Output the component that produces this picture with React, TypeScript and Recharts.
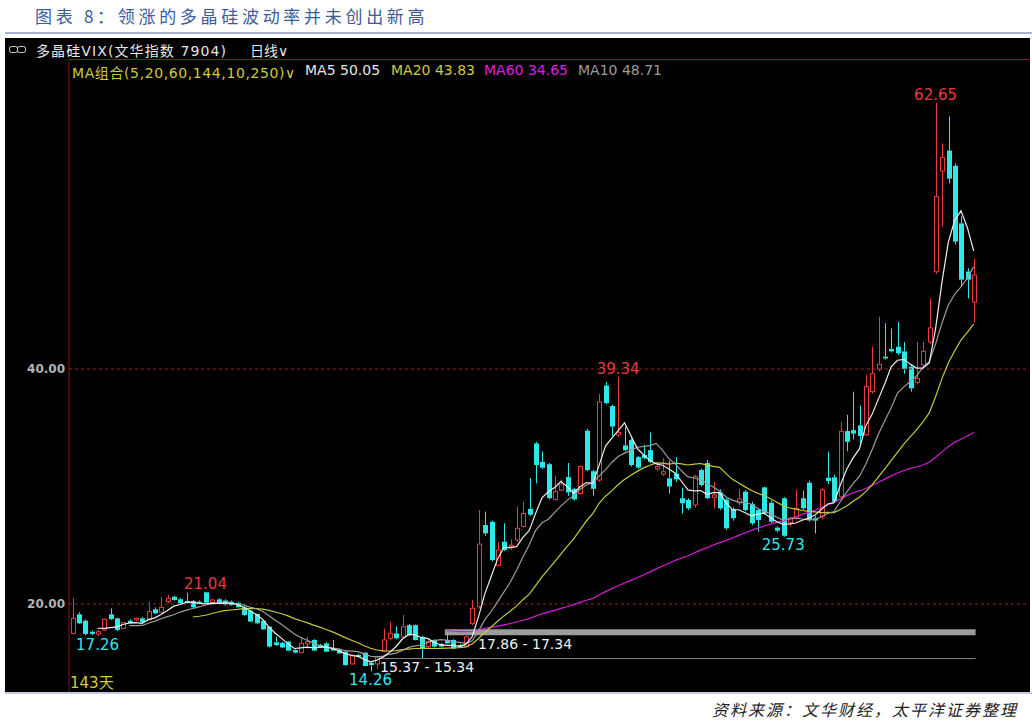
import React from 'react';
import { ComposedChart, Bar, Line, XAxis, YAxis, ReferenceLine, ReferenceArea, ReferenceDot } from 'recharts';

// daily OHLC of 多晶硅VIX, 143 sessions
const OPEN = [
  17.5, 19.12, 18.58, 17.64, 17.45, 17.79, 19.12, 18.78, 17.93, 18.58,
  18.64, 18.78, 18.7, 19.55, 19.29, 20.2, 20.62, 20.4, 20.26, 20.26,
  20.2, 21.0, 20.14, 20.4, 20.3, 20.2, 20.1, 19.72, 19.43, 19.15,
  18.58, 18.07, 16.74, 16.7, 16.8, 16.08, 15.86, 16.6, 16.94, 16.5,
  16.65, 16.2, 16.14, 15.94, 14.9, 15.66, 15.86, 15.0, 14.9, 16.0,
  17.08, 17.5, 17.2, 18.2, 18.2, 17.2, 16.37, 16.94, 16.6, 16.94,
  16.94, 16.5, 16.37, 18.35, 19.77, 26.72, 27.0, 23.3, 25.3, 24.9,
  25.45, 26.6, 28.1, 33.67, 32.1, 31.9, 28.9, 29.7, 30.8, 29.8,
  29.4, 34.75, 31.3, 30.55, 38.6, 36.85, 34.4, 33.5, 33.96, 32.5,
  32.68, 33.1, 31.5, 31.06, 30.7, 31.1, 29.0, 28.85, 28.43, 31.4,
  32.0, 29.08, 29.48, 28.9, 28.06, 28.6, 29.56, 28.5, 28.0, 29.93,
  28.62, 26.5, 29.0, 26.9, 27.3, 29.0, 30.33, 27.3, 27.43, 30.75,
  30.78, 29.13, 34.72, 34.8, 35.2, 34.4, 38.07, 40.0, 41.05, 41.7,
  41.9, 41.5, 40.2, 38.87, 40.34, 42.3, 48.28, 56.85, 58.6, 57.3,
  52.4, 48.3, 45.7,
];
const HIGH = [
  20.5, 19.3, 18.7, 17.75, 17.8, 18.75, 19.63, 18.85, 18.45, 18.7,
  18.85, 18.9, 20.2, 19.7, 20.62, 20.77, 20.7, 20.5, 20.95, 20.35,
  20.3, 21.04, 20.4, 20.5, 20.4, 20.3, 20.2, 19.8, 19.5, 19.2,
  18.65, 18.1, 17.2, 16.8, 16.85, 16.15, 17.2, 17.2, 17.0, 16.6,
  16.75, 16.94, 16.2, 16.0, 15.7, 15.75, 15.9, 15.1, 15.6, 17.9,
  18.5, 18.1, 19.06, 18.3, 18.25, 17.3, 16.9, 17.0, 16.7, 17.5,
  17.0, 16.6, 17.3, 20.34, 28.0, 27.86, 27.1, 25.3, 26.87, 25.5,
  28.3, 28.7, 30.7, 33.8, 33.0, 32.0, 30.9, 30.6, 32.0, 29.9,
  31.8, 34.9, 31.4, 37.87, 38.9, 36.95, 39.34, 35.1, 34.1, 32.6,
  33.5, 34.6, 31.9, 32.4, 32.2, 32.5, 29.9, 29.0, 31.0, 31.5,
  32.26, 30.4, 29.75, 29.0, 28.2, 29.8, 29.7, 28.7, 28.1, 30.0,
  28.8, 26.6, 29.1, 27.4, 29.7, 29.65, 30.5, 27.5, 29.9, 32.96,
  31.0, 35.5, 36.1, 38.07, 36.9, 39.5, 41.9, 44.45, 43.9, 43.46,
  44.0, 42.3, 40.4, 42.3, 42.3, 46.0, 62.65, 59.2, 61.5, 57.5,
  53.0, 48.57, 49.4,
];
const LOW = [
  17.4, 18.3, 17.36, 17.35, 17.26, 17.7, 18.65, 17.7, 17.85, 18.3,
  18.55, 18.4, 18.6, 19.15, 19.2, 20.1, 20.3, 20.0, 20.05, 19.65,
  20.0, 20.05, 20.05, 19.95, 19.85, 19.85, 19.7, 19.0, 18.45, 18.3,
  17.8, 16.3, 16.45, 16.25, 16.0, 15.8, 15.8, 16.2, 16.0, 16.25,
  15.9, 16.0, 15.75, 14.75, 14.85, 15.45, 14.7, 14.26, 14.5, 15.95,
  16.9, 17.0, 17.1, 17.3, 16.9, 15.4, 16.3, 16.3, 16.3, 16.6,
  16.15, 16.3, 16.3, 18.2, 19.6, 25.8, 23.6, 23.2, 24.5, 24.6,
  25.3, 26.5, 27.5, 30.27, 31.5, 28.9, 28.8, 29.6, 29.2, 28.8,
  29.3, 31.3, 29.2, 30.4, 37.0, 34.3, 34.2, 33.0, 31.7, 31.5,
  32.3, 32.0, 31.3, 30.9, 29.4, 30.4, 27.7, 28.0, 28.2, 30.0,
  28.9, 28.1, 28.0, 26.3, 27.1, 28.4, 27.9, 26.7, 26.16, 27.6,
  26.9, 26.1, 25.73, 26.6, 27.2, 28.0, 27.0, 26.0, 27.2, 30.2,
  28.6, 29.0, 33.0, 34.0, 33.7, 34.3, 37.9, 39.8, 40.8, 41.4,
  41.2, 39.6, 38.07, 38.7, 40.2, 42.1, 48.1, 52.1, 55.8, 50.6,
  47.0, 46.0, 44.0,
];
const CLOSE = [
  18.78, 18.35, 17.45, 17.45, 17.64, 18.7, 18.72, 17.79, 18.41, 18.35,
  18.78, 18.44, 19.35, 19.2, 19.72, 20.48, 20.34, 20.06, 20.11, 19.72,
  20.06, 20.11, 20.34, 20.0, 19.95, 19.9, 19.72, 19.06, 18.5, 18.35,
  17.84, 16.37, 16.5, 16.3, 16.03, 15.86, 16.65, 16.8, 16.03, 16.3,
  15.94, 16.03, 15.8, 14.8, 15.6, 15.5, 14.72, 14.8, 15.5, 16.94,
  17.5, 17.08, 18.07, 17.36, 16.94, 16.2, 16.8, 16.37, 16.37, 16.65,
  16.2, 16.37, 17.2, 19.63, 25.1, 26.01, 23.74, 24.6, 24.6, 25.0,
  26.44, 27.7, 27.6, 31.83, 31.6, 29.0, 29.56, 30.2, 29.5, 28.9,
  31.7, 31.4, 29.8, 37.2, 37.1, 35.1, 34.6, 33.1, 31.83, 31.6,
  32.4, 32.1, 31.7, 31.26, 30.0, 30.6, 28.57, 28.14, 30.84, 30.13,
  29.0, 29.28, 28.14, 26.44, 27.3, 28.94, 28.0, 26.87, 27.15, 27.72,
  27.0, 26.24, 25.8, 27.3, 28.14, 28.14, 27.15, 27.1, 29.7, 30.47,
  28.7, 34.7, 33.8, 34.5, 34.3, 38.5, 39.6, 40.4, 40.9, 41.5,
  41.33, 40.0, 38.35, 39.2, 41.5, 43.5, 54.67, 58.0, 56.2, 50.84,
  47.6, 47.6, 48.0,
];

const Y_TICKS = [20, 40];

// marked highs / lows: [candle index, value]
const HIGH_MARKS: [number, number][] = [[136, 62.65], [86, 39.34], [21, 21.04]];
const LOW_MARKS: [number, number][] = [[4, 17.26], [47, 14.26], [112, 25.73]];

const RED = '#e83c3c';
const CYAN = '#2ee8e8';

const movingAvg = (vals: number[], n: number) =>
  vals.map((_, i) => {
    if (i < n - 1) return null;
    let s = 0;
    for (let k = i - n + 1; k <= i; k++) s += vals[k];
    return +(s / n).toFixed(3);
  });

const ma5 = movingAvg(CLOSE, 5);
const ma10 = movingAvg(CLOSE, 10);
const ma20 = movingAvg(CLOSE, 20);
const ma60 = movingAvg(CLOSE, 60);

const rows = CLOSE.map((c, i) => ({
  i,
  open: OPEN[i],
  high: HIGH[i],
  low: LOW[i],
  close: c,
  range: [LOW[i], HIGH[i]],
  ma5: ma5[i],
  ma10: ma10[i],
  ma20: ma20[i],
  ma60: ma60[i],
}));

const Candle = (props: any) => {
  const { x, y, width, height, payload } = props;
  if (!payload || x == null) return null;
  const { open, close, high, low } = payload;
  const top = Math.min(y, y + height);
  const h = Math.abs(height);
  const k = h / (high - low || 1);
  const py = (v: number) => top + (high - v) * k;
  const up = close >= open;
  const color = up ? RED : CYAN;
  const cx = Math.round(x + width / 2) + 0.5;
  const bTop = py(Math.max(open, close));
  const bh = Math.max(py(Math.min(open, close)) - bTop, 1);
  return (
    <g>
      <line x1={cx} x2={cx} y1={top} y2={bTop} stroke={color} strokeWidth={1} />
      <line x1={cx} x2={cx} y1={bTop + bh} y2={top + h} stroke={color} strokeWidth={1} />
      {up ? (
        <rect x={cx - 2} y={bTop} width={4} height={bh} fill="#000" stroke={color} strokeWidth={1} />
      ) : (
        <rect x={cx - 2.5} y={bTop} width={5} height={bh} fill={color} />
      )}
    </g>
  );
};

const numFont = '"DejaVu Sans", Verdana, sans-serif';
const cjkFont = '"DejaVu Sans", "Noto Sans CJK SC", sans-serif';

const abs = (left: number, top: number, extra: React.CSSProperties = {}): React.CSSProperties => ({
  position: 'absolute',
  left,
  top,
  whiteSpace: 'nowrap',
  ...extra,
});

export default function App() {
  return (
    <div style={{ position: 'absolute', left: 0, top: 0, width: 1032, height: 722, background: '#fff', overflow: 'hidden' }}>
      <div style={abs(35, 3, { fontFamily: '"Noto Sans CJK SC", sans-serif', fontSize: 17, color: '#3a5b9c', letterSpacing: 3.7 })}>
        图表 8：领涨的多晶硅波动率并未创出新高
      </div>
      <div style={abs(5, 32, { width: 1027, height: 2, background: '#aab2d4' })} />
      <div style={abs(5, 38, { width: 1025, height: 654, background: '#000' })} />

      <ComposedChart
        width={1032}
        height={722}
        data={rows}
        margin={{ top: 62, right: 5, bottom: 30, left: 0 }}
        style={{ position: 'absolute', left: 0, top: 0 }}
      >
        <XAxis type="number" dataKey="i" domain={[-0.5, 150.4]} hide allowDataOverflow />
        <YAxis
          type="number"
          domain={[12.51, 66.13]}
          ticks={Y_TICKS}
          allowDataOverflow
          width={69}
          tickFormatter={(v: number) => v.toFixed(2)}
          tick={{ fill: '#b4b4b4', fontSize: 12, fontWeight: 'bold', fontFamily: numFont }}
          tickLine={false}
          tickSize={2}
          tickMargin={2}
          axisLine={{ stroke: '#8c1818' }}
        />
        <ReferenceLine y={40} stroke="#9a2424" strokeDasharray="3 3" />
        <ReferenceLine y={20} stroke="#9a2424" strokeDasharray="3 3" />
        <ReferenceArea x1={58.7} x2={142.3} y1={17.34} y2={17.86} fill="#9c9c9c" fillOpacity={1} stroke="none" />
        <ReferenceLine segment={[{ x: 48.6, y: 15.355 }, { x: 142.3, y: 15.355 }]} stroke="#8a8a8a" />
        <Bar dataKey="range" barSize={5} shape={<Candle />} isAnimationActive={false} />
        <Line dataKey="ma60" type="linear" stroke="#d21ed2" strokeWidth={1.2} dot={false} isAnimationActive={false} />
        <Line dataKey="ma20" type="linear" stroke="#c8c83a" strokeWidth={1.2} dot={false} isAnimationActive={false} />
        <Line dataKey="ma10" type="linear" stroke="#9c9c9c" strokeWidth={1.2} dot={false} isAnimationActive={false} />
        <Line dataKey="ma5" type="linear" stroke="#eeeeee" strokeWidth={1.2} dot={false} isAnimationActive={false} />
        {HIGH_MARKS.map(([i, v]) => (
          <ReferenceDot
            key={'h' + i}
            x={i}
            y={v}
            r={0}
            stroke="none"
            label={{ value: v.toFixed(2), position: 'top', offset: 3, fill: RED, fontSize: 15, fontFamily: numFont }}
          />
        ))}
        {LOW_MARKS.map(([i, v]) => (
          <ReferenceDot
            key={'l' + i}
            x={i}
            y={v}
            r={0}
            stroke="none"
            label={{ value: v.toFixed(2), position: 'bottom', offset: 3, fill: CYAN, fontSize: 15, fontFamily: numFont }}
          />
        ))}
      </ComposedChart>

      {/* header rows */}
      <svg style={abs(9, 45)} width={18} height={10}>
        <rect x={0.5} y={1.5} width={8} height={6} rx={2} fill="none" stroke="#d0d0d0" />
        <rect x={8.5} y={1.5} width={8} height={6} rx={2} fill="none" stroke="#d0d0d0" />
      </svg>
      <div style={abs(36, 40, { fontFamily: cjkFont, fontSize: 14, color: '#e6e6e6', letterSpacing: 1.1 })}>
        多晶硅VIX(文华指数 7904)
      </div>
      <div style={abs(250, 40, { fontFamily: cjkFont, fontSize: 14, color: '#e6e6e6' })}>日线∨</div>
      <div style={abs(69, 59, { width: 961, height: 1, background: '#8c1818' })} />
      <div style={abs(72, 62, { fontFamily: cjkFont, fontSize: 14, color: '#cccc3c', letterSpacing: 0.6 })}>MA组合(5,20,60,144,10,250)∨</div>
      <div style={abs(305, 62, { fontFamily: numFont, fontSize: 14, color: '#e6e6e6' })}>MA5 50.05</div>
      <div style={abs(391, 62, { fontFamily: numFont, fontSize: 14, color: '#cccc3c' })}>MA20 43.83</div>
      <div style={abs(484, 62, { fontFamily: numFont, fontSize: 14, color: '#e020e0' })}>MA60 34.65</div>
      <div style={abs(578, 62, { fontFamily: numFont, fontSize: 14, color: '#9c9c9c' })}>MA10 48.71</div>

      {/* range labels */}
      <div style={abs(478, 636, { fontFamily: numFont, fontSize: 14, color: '#f0f0f0' })}>17.86 - 17.34</div>
      <div style={abs(380, 659, { fontFamily: numFont, fontSize: 14, color: '#f0f0f0' })}>15.37 - 15.34</div>
      <div style={abs(70, 671, { fontFamily: cjkFont, fontSize: 15, color: '#cccc3c' })}>143天</div>

      <div style={abs(5, 692, { width: 1027, height: 2, background: '#c4c8e0' })} />
      <div style={abs(712, 697, { fontFamily: '"Noto Sans CJK SC", sans-serif', fontSize: 16, fontStyle: 'italic', color: '#222', letterSpacing: 2 })}>
        资料来源：文华财经，太平洋证券整理
      </div>
    </div>
  );
}
